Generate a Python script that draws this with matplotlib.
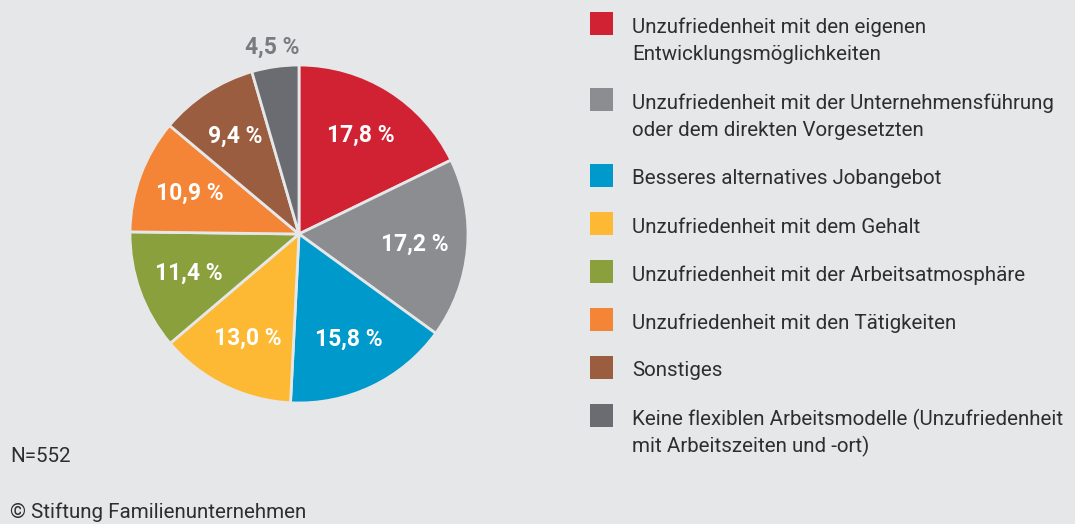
import matplotlib
matplotlib.use("Agg")
import matplotlib.pyplot as plt
import matplotlib.patches as mpatches
from matplotlib import font_manager

names = {f.name for f in font_manager.fontManager.ttflist}
family = ["Liberation Sans Narrow", "DejaVu Sans"] if "Liberation Sans Narrow" in names else ["Roboto", "DejaVu Sans"]
plt.rcParams["font.family"] = family

labels = [
    "Unzufriedenheit mit den eigenen\nEntwicklungsmöglichkeiten",
    "Unzufriedenheit mit der Unternehmensführung\noder dem direkten Vorgesetzten",
    "Besseres alternatives Jobangebot",
    "Unzufriedenheit mit dem Gehalt",
    "Unzufriedenheit mit der Arbeitsatmosphäre",
    "Unzufriedenheit mit den Tätigkeiten",
    "Sonstiges",
    "Keine flexiblen Arbeitsmodelle (Unzufriedenheit\nmit Arbeitszeiten und -ort)",
]
values = [17.8, 17.2, 15.8, 13.0, 11.4, 10.9, 9.4, 4.5]
colors = ["#d12234", "#8c8d91", "#0099cc", "#fdb933", "#8aa03c", "#f48436", "#9a5d40", "#6b6c71"]

bg = "#e6e7e8"
txt = "#2e2e2e"
W, H = 1075, 524

fig = plt.figure(figsize=(W / 100, H / 100), dpi=100, facecolor=bg)

# pie axes: centre (299, 234) px, radius 169 px
cx, cy, r = 299, 234, 169
ax = fig.add_axes([(cx - r) / W, (H - cy - r) / H, 2 * r / W, 2 * r / H])
ax.set_facecolor(bg)

wedges, texts, autotexts = ax.pie(
    values, colors=colors, startangle=90, counterclock=False,
    autopct=lambda p: f"{p:.1f} %".replace(".", ","), pctdistance=0.69,
    wedgeprops=dict(edgecolor="#e6e7e8", linewidth=2),
    textprops=dict(color="white", fontsize=16.5, fontweight="bold"),
)
ax.set_xlim(-1, 1)
ax.set_ylim(-1, 1)
ax.set_aspect("equal")

# small slice label outside the pie
last = autotexts[-1]
x, y = last.get_position()
last.set_position((x * 1.64, y * 1.62))
last.set_color("#7a7b7f")

# legend drawn by hand so squares line up with the first line
fs = 14.8
y = 12
for lab, col in zip(labels, colors):
    fig.patches.append(mpatches.Rectangle((590 / W, 1 - (y + 23) / H), 23 / W, 23 / H,
                                          transform=fig.transFigure, facecolor=col, edgecolor="none"))
    lines = lab.split("\n")
    for i, line in enumerate(lines):
        fig.text(632 / W, 1 - (y + 15 + i * 27) / H, line, fontsize=fs, color=txt, va="center", ha="left")
    y += 48 + 28 * (len(lines) - 1)

fig.text(10 / W, 1 - 457 / H, "N=552", fontsize=fs, color=txt, va="center", ha="left")
fig.text(10 / W, 1 - 512 / H, "© Stiftung Familienunternehmen", fontsize=fs, color=txt, va="center", ha="left")

fig.savefig("out.png", dpi=100, facecolor=bg)
